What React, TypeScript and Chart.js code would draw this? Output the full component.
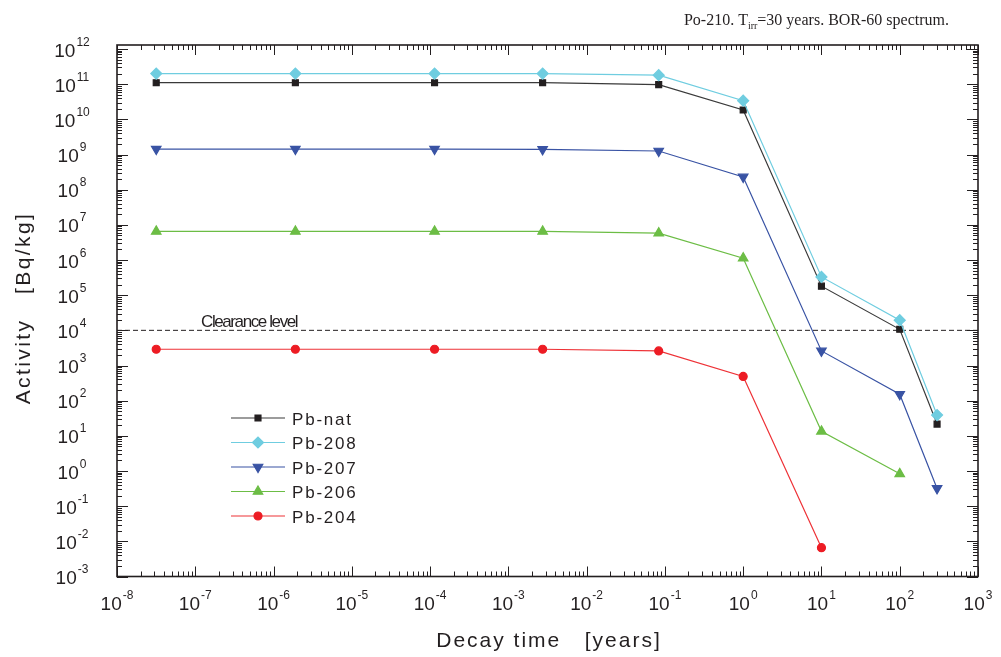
import React, { useEffect, useRef } from "react";
import { Chart, registerables } from "chart.js";
import { drawPoint } from "chart.js/helpers";

Chart.register(...registerables);

// ---- data ----
const decayTimes = [3.17e-8, 1.9e-6, 1.14e-4, 2.74e-3, 8.33e-2, 1, 10, 100, 300];
const pbNat = [1.1e11, 1.1e11, 1.1e11, 1.1e11, 9.7e10, 1.84e10, 1.8e5, 1.07e4, 21.6];
const pb208 = [2.0e11, 2.0e11, 2.0e11, 2.0e11, 1.8e11, 3.4e10, 3.3e5, 1.94e4, 39];
const pb207 = [1.43e9, 1.43e9, 1.43e9, 1.4e9, 1.26e9, 2.3e8, 2.6e3, 152, 0.32];
const pb206 = [6.5e6, 6.5e6, 6.5e6, 6.5e6, 5.8e6, 1.13e6, 13.4, 0.83, null];
const pb204 = [2.9e3, 2.9e3, 2.9e3, 2.9e3, 2.6e3, 490, 6.6e-3, null, null];
const clearanceLevel = 1e4;
const clearanceLabel = "Clearance level";

const seriesNames = ["Pb-nat", "Pb-208", "Pb-207", "Pb-206", "Pb-204"];
const xTickExponents = [-8, -7, -6, -5, -4, -3, -2, -1, 0, 1, 2, 3];
const yTickExponents = [-3, -2, -1, 0, 1, 2, 3, 4, 5, 6, 7, 8, 9, 10, 11, 12];
const xAxisTitle = "Decay time   [years]";
const yAxisTitle = "Activity   [Bq/kg]";

const X_MIN = 1e-8;
const X_MAX = 1e3;
const Y_MIN = 1e-3;
const Y_MAX = Math.pow(10, 12.114);

const styles = [
  { line: "#3a3a3a", fill: "#231f20", pointStyle: "rect", radius: 4.2, rotation: 0 },
  { line: "#6fcde0", fill: "#6fcde0", pointStyle: "rectRot", radius: 5.5, rotation: 0 },
  { line: "#3953a4", fill: "#3953a4", pointStyle: "triangle", radius: 5.5, rotation: 180 },
  { line: "#6cbd45", fill: "#6cbd45", pointStyle: "triangle", radius: 5.5, rotation: 0 },
  { line: "#ee3237", fill: "#ed1c24", pointStyle: "circle", radius: 4, rotation: 0 },
];

const seriesValues = [pbNat, pb208, pb207, pb206, pb204];

const FONT = "'Liberation Sans', Arial, sans-serif";
const SERIF = "'Liberation Serif', 'Times New Roman', serif";

function drawPow(ctx: CanvasRenderingContext2D, cx: number, baseY: number, exp: number) {
  const main = "10";
  const sup = String(exp);
  ctx.font = `19px ${FONT}`;
  const w1 = ctx.measureText(main).width;
  ctx.font = `12px ${FONT}`;
  const w2 = ctx.measureText(sup).width;
  const gap = 1;
  const start = cx - (w1 + gap + w2) / 2;
  ctx.textAlign = "left";
  ctx.textBaseline = "alphabetic";
  ctx.font = `19px ${FONT}`;
  ctx.fillText(main, start, baseY);
  ctx.font = `12px ${FONT}`;
  ctx.fillText(sup, start + w1 + gap, baseY - 11);
}

const decorPlugin = {
  id: "decor",
  afterDraw(chart: any) {
    const ctx: CanvasRenderingContext2D = chart.ctx;
    const { left, right, top, bottom } = chart.chartArea;
    const xs = chart.scales.x;
    const ys = chart.scales.y;
    ctx.save();
    ctx.strokeStyle = "#231f20";
    ctx.fillStyle = "#231f20";
    ctx.lineWidth = 1;
    // ticks inward
    ctx.beginPath();
    for (const e of xTickExponents) {
      for (let m = 1; m <= 9; m++) {
        const v = m * Math.pow(10, e);
        if (v > X_MAX * 1.0001) break;
        const px = Math.round(xs.getPixelForValue(v)) + 0.5;
        const len = m === 1 ? 10 : 5;
        ctx.moveTo(px, bottom);
        ctx.lineTo(px, bottom - len);
        ctx.moveTo(px, top);
        ctx.lineTo(px, top + len);
      }
    }
    for (const e of yTickExponents) {
      for (let m = 1; m <= 9; m++) {
        const v = m * Math.pow(10, e);
        if (v > Y_MAX) break;
        const py = Math.round(ys.getPixelForValue(v)) + 0.5;
        const len = m === 1 ? 11 : 5;
        ctx.moveTo(left, py);
        ctx.lineTo(left + len, py);
        ctx.moveTo(right, py);
        ctx.lineTo(right - len, py);
      }
    }
    ctx.stroke();
    // frame
    ctx.lineWidth = 1.6;
    ctx.strokeRect(left, top, right - left, bottom - top);

    // tick labels
    ctx.fillStyle = "#231f20";
    for (const e of xTickExponents) {
      const px = xs.getPixelForValue(Math.pow(10, e));
      drawPow(ctx, px, 610, e);
    }
    for (const e of yTickExponents) {
      const py = ys.getPixelForValue(Math.pow(10, e));
      drawPow(ctx, 72, py + 7.5, e);
    }

    // axis titles
    ctx.fillStyle = "#231f20";
    ctx.font = `21px ${FONT}`;
    (ctx as any).letterSpacing = "2px";
    ctx.textAlign = "center";
    ctx.textBaseline = "alphabetic";
    ctx.fillText(xAxisTitle, 549, 647);
    ctx.save();
    ctx.translate(30, 308);
    ctx.rotate(-Math.PI / 2);
    (ctx as any).letterSpacing = "2.4px";
    ctx.fillText(yAxisTitle, 0, 0);
    ctx.restore();

    // title with subscript
    (ctx as any).letterSpacing = "0px";
    ctx.textAlign = "left";
    const p1 = "Po-210. T";
    const p2 = "irr";
    const p3 = "=30 years. BOR-60 spectrum.";
    ctx.font = `16px ${SERIF}`;
    const w1 = ctx.measureText(p1).width;
    const w3 = ctx.measureText(p3).width;
    ctx.font = `10px ${SERIF}`;
    const w2 = ctx.measureText(p2).width;
    let tx = 949 - (w1 + w2 + w3);
    ctx.font = `16px ${SERIF}`;
    ctx.fillText(p1, tx, 25);
    tx += w1;
    ctx.font = `10px ${SERIF}`;
    ctx.fillText(p2, tx, 29);
    tx += w2;
    ctx.font = `16px ${SERIF}`;
    ctx.fillText(p3, tx, 25);

    // clearance label
    (ctx as any).letterSpacing = "-1.4px";
    ctx.font = `17px ${FONT}`;
    ctx.fillText(clearanceLabel, 201, 327);

    // legend
    (ctx as any).letterSpacing = "1.8px";
    ctx.font = `17px ${FONT}`;
    seriesNames.forEach((name, i) => {
      const st = styles[i];
      const ry = 418 + i * 24.5;
      ctx.strokeStyle = st.line;
      ctx.lineWidth = 1.2;
      ctx.beginPath();
      ctx.moveTo(231, ry);
      ctx.lineTo(285, ry);
      ctx.stroke();
      ctx.fillStyle = st.fill;
      ctx.strokeStyle = st.fill;
      drawPoint(ctx, { pointStyle: st.pointStyle as any, radius: st.radius, rotation: st.rotation, borderWidth: 1 }, 258, ry);
      ctx.fillStyle = "#231f20";
      ctx.fillText(name, 292, ry + 6.5);
    });
    ctx.restore();
  },
};

export default function App() {
  const ref = useRef<HTMLCanvasElement>(null);
  useEffect(() => {
    if (!ref.current) return;
    const datasets: any[] = seriesValues.map((vals, i) => ({
      label: seriesNames[i],
      data: decayTimes
        .map((t, j) => ({ x: t, y: vals[j] }))
        .filter((p) => p.y !== null && p.y !== undefined),
      borderColor: styles[i].line,
      backgroundColor: styles[i].fill,
      pointBorderColor: styles[i].fill,
      pointBackgroundColor: styles[i].fill,
      pointStyle: styles[i].pointStyle,
      pointRadius: styles[i].radius,
      pointRotation: styles[i].rotation,
      borderWidth: 1.2,
      tension: 0,
      order: 5 - i,
    }));
    datasets.push({
      label: "Clearance level",
      data: [
        { x: X_MIN, y: clearanceLevel },
        { x: X_MAX, y: clearanceLevel },
      ],
      borderColor: "#231f20",
      borderWidth: 1,
      borderDash: [5, 3],
      pointRadius: 0,
      order: 10,
    });
    const chart = new Chart(ref.current, {
      type: "line",
      data: { datasets },
      options: {
        animation: false,
        responsive: false,
        devicePixelRatio: 1,
        layout: { padding: { left: 117, right: 23, top: 45, bottom: 80.5 } },
        plugins: { legend: { display: false }, tooltip: { enabled: false } },
        scales: {
          x: { type: "logarithmic", min: X_MIN, max: X_MAX, display: false },
          y: { type: "logarithmic", min: Y_MIN, max: Y_MAX, display: false },
        },
      },
      plugins: [decorPlugin],
    });
    return () => chart.destroy();
  }, []);
  return (
    <div style={{ position: "fixed", left: 0, top: 0, width: 1001, height: 657, background: "#fff" }}>
      <canvas ref={ref} width={1001} height={657} style={{ width: 1001, height: 657 }} />
    </div>
  );
}
